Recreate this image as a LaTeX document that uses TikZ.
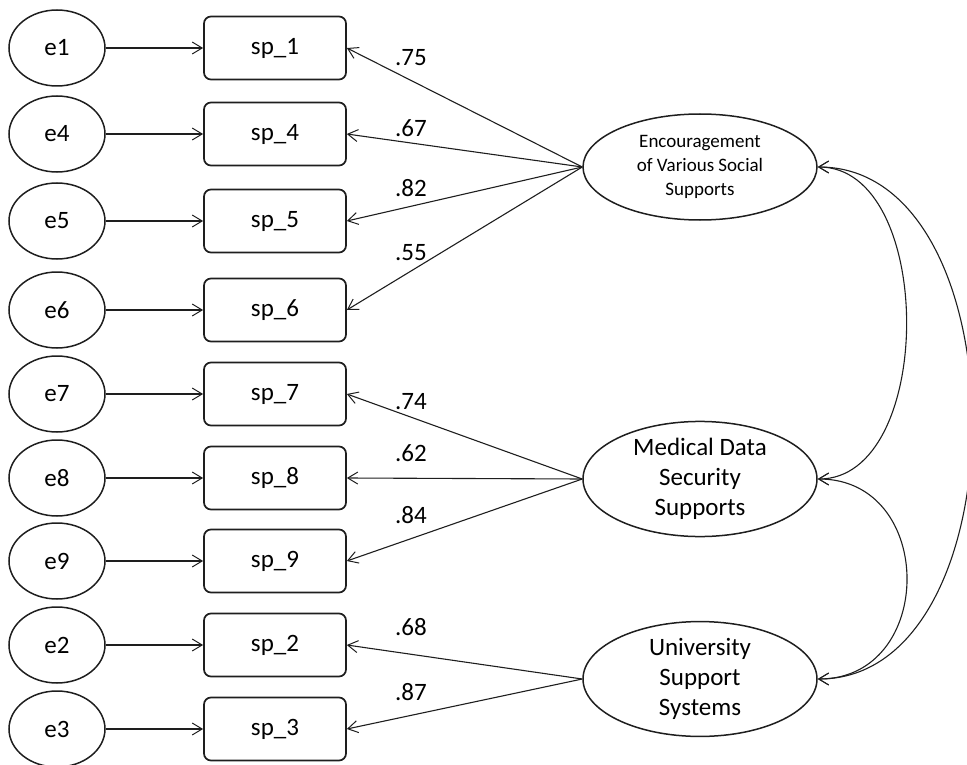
\documentclass[tikz,border=0pt]{standalone}
\usepackage{fontspec}
\setmainfont{Carlito}
\usepackage{tikz}
\usetikzlibrary{positioning, arrows.meta, shapes.geometric}
\definecolor{semink}{HTML}{1E1E1E}

\begin{document}
\begin{tikzpicture}[x=1pt, y=-1pt,
  errnode/.style={draw=semink, ellipse, line width=1.5pt, minimum width=96pt, minimum height=76pt, inner sep=0pt, font=\fontsize{25}{30}\selectfont},
  itembox/.style={draw=semink, rectangle, rounded corners=7pt, line width=1.7pt, minimum width=142pt, minimum height=63pt, inner sep=0pt, font=\fontsize{25}{30}\selectfont},
  factor/.style={draw=semink, ellipse, line width=1.5pt, minimum width=234pt, minimum height=106pt, inner sep=0pt, align=center},
  loadlbl/.style={font=\fontsize{25}{30}\selectfont, inner sep=0pt},
  barb/.style={-{Straight Barb[length=10pt, width=12pt, line width=1pt]}, line width=1.1pt, semink},
  cov/.style={{Straight Barb[length=10pt, width=12pt, line width=1pt]}-{Straight Barb[length=10pt, width=12pt, line width=1pt]}, line width=1.1pt, semink}]
\useasboundingbox (0,0) rectangle (967,765);

\node[errnode] (e1) at (57,48) {e1};
\node[errnode] (e4) at (57,134) {e4};
\node[errnode] (e5) at (57,221) {e5};
\node[errnode] (e6) at (57,310) {e6};
\node[errnode] (e7) at (57,394) {e7};
\node[errnode] (e8) at (57,478) {e8};
\node[errnode] (e9) at (57,561) {e9};
\node[errnode] (e2) at (57,645) {e2};
\node[errnode] (e3) at (57,729) {e3};

\node[itembox] (sp1) at (275,48) {sp\_1};
\node[itembox] (sp4) at (275,134) {sp\_4};
\node[itembox] (sp5) at (275,221) {sp\_5};
\node[itembox] (sp6) at (275,310) {sp\_6};
\node[itembox] (sp7) at (275,394) {sp\_7};
\node[itembox] (sp8) at (275,478) {sp\_8};
\node[itembox] (sp9) at (275,561) {sp\_9};
\node[itembox] (sp2) at (275,645) {sp\_2};
\node[itembox] (sp3) at (275,729) {sp\_3};

\node[factor, font=\fontsize{19}{24}\selectfont] (enc) at (700,167) {Encouragement\\of Various Social\\Supports};
\node[factor, font=\fontsize{25}{30}\selectfont] (med) at (700,479) {Medical Data\\Security\\Supports};
\node[factor, font=\fontsize{25}{30}\selectfont] (uni) at (700,679) {University\\Support\\Systems};

\draw[barb] (e1.east) -- (sp1.west);
\draw[barb] (e4.east) -- (sp4.west);
\draw[barb] (e5.east) -- (sp5.west);
\draw[barb] (e6.east) -- (sp6.west);
\draw[barb] (e7.east) -- (sp7.west);
\draw[barb] (e8.east) -- (sp8.west);
\draw[barb] (e9.east) -- (sp9.west);
\draw[barb] (e2.east) -- (sp2.west);
\draw[barb] (e3.east) -- (sp3.west);

\draw[barb] (enc.west) -- (sp1.east);
\draw[barb] (enc.west) -- (sp4.east);
\draw[barb] (enc.west) -- (sp5.east);
\draw[barb] (enc.west) -- (sp6.east);
\draw[barb] (med.west) -- (sp7.east);
\draw[barb] (med.west) -- (sp8.east);
\draw[barb] (med.west) -- (sp9.east);
\draw[barb] (uni.west) -- (sp2.east);
\draw[barb] (uni.west) -- (sp3.east);

\node[loadlbl] (l1) at (411,58) {.75};
\node[loadlbl] (l4) at (411,128) {.67};
\node[loadlbl] (l5) at (411,188) {.82};
\node[loadlbl] (l6) at (411,253) {.55};
\node[loadlbl] (l7) at (411,402) {.74};
\node[loadlbl] (l8) at (411,453) {.62};
\node[loadlbl] (l9) at (411,515) {.84};
\node[loadlbl] (l2) at (411,627) {.68};
\node[loadlbl] (l3) at (411,692) {.87};

\draw[cov] (enc.east) to[out=0, in=0, looseness=0.97] (med.east);
\draw[cov] (med.east) to[out=0, in=0, looseness=1.52] (uni.east);
\draw[cov] (enc.east) to[out=0, in=0, looseness=1.03] (uni.east);
\end{tikzpicture}
\end{document}
